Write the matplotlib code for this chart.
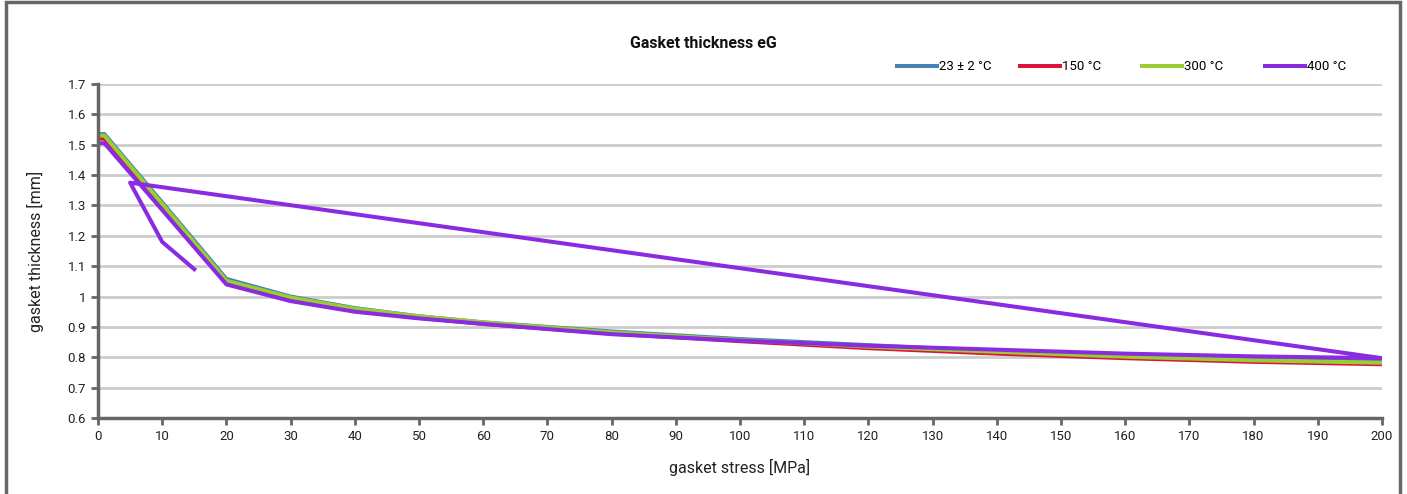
import matplotlib.pyplot as plt
import matplotlib.patches as patches
from matplotlib.ticker import FuncFormatter
from matplotlib.lines import Line2D

plt.rcParams['font.family'] = ['Roboto', 'DejaVu Sans']

# gasket stress [MPa] and thickness [mm] per temperature
stress = [0, 1, 10, 20, 30, 40, 50, 60, 80, 100, 120, 140, 160, 180, 200]
t23 = [1.535, 1.535, 1.31, 1.058, 1.0, 0.962, 0.935, 0.915, 0.885, 0.86, 0.84, 0.82, 0.805, 0.795, 0.785]
t150 = [1.52, 1.52, 1.295, 1.05, 0.995, 0.958, 0.93, 0.91, 0.878, 0.853, 0.83, 0.812, 0.797, 0.785, 0.777]
t300 = [1.53, 1.53, 1.305, 1.052, 0.997, 0.96, 0.935, 0.915, 0.882, 0.857, 0.835, 0.818, 0.802, 0.79, 0.782]
# 400 °C includes the unloading branch back to low stress
stress400 = stress + [5, 10, 15]
t400 = [1.505, 1.505, 1.285, 1.04, 0.985, 0.95, 0.928, 0.91, 0.876, 0.855, 0.838, 0.825, 0.812, 0.803, 0.797,
        1.375, 1.18, 1.09]

labels = ['23 ± 2 °C', '150 °C', '300 °C', '400 °C']
colors = ['#4682B4', '#DC143C', '#9ACD32', '#8A2BE2']

fig = plt.figure(figsize=(14.07, 4.94), dpi=100)
ax = fig.add_axes([98 / 1407, 1 - 418 / 494, (1382 - 98) / 1407, (418 - 84) / 494])

lw = 2.9
ax.plot(stress, t23, color=colors[0], lw=lw)
ax.plot(stress, t150, color=colors[1], lw=lw)
ax.plot(stress, t300, color=colors[2], lw=lw)
ax.plot(stress400, t400, color=colors[3], lw=lw)

ax.set_xlim(0, 200)
ax.set_ylim(0.6, 1.7)
ax.set_xticks(range(0, 201, 10))
ax.set_yticks([round(0.6 + 0.1 * i, 1) for i in range(12)])
ax.yaxis.set_major_formatter(FuncFormatter(lambda v, p: ('%.1f' % v).rstrip('0').rstrip('.')))

ax.grid(axis='y', color='#cccccc', lw=2)
ax.set_axisbelow(True)
for s in ['top', 'right']:
    ax.spines[s].set_visible(False)
for s in ['left', 'bottom']:
    ax.spines[s].set_color('#666666')
    ax.spines[s].set_linewidth(2.5)
ax.tick_params(colors='#666666', width=2, length=5, labelsize=9.5, labelcolor='#222222')

ax.set_xlabel('gasket stress [MPa]', fontsize=11.5, color='#222222', labelpad=12)
ax.set_ylabel('gasket thickness [mm]', fontsize=11.5, color='#222222', labelpad=17)
fig.text(0.5, 1 - 43 / 494, 'Gasket thickness eG', ha='center', va='center',
         fontsize=11.5, fontweight='bold', color='#111111')

# legend entries spaced evenly like the original
leg_x = [897, 1020, 1142, 1265]
for lx, lab, c in zip(leg_x, labels, colors):
    h = Line2D([], [], color=c, lw=lw)
    leg = fig.legend([h], [lab], loc='center left', bbox_to_anchor=(lx / 1407, 1 - 67 / 494),
                     frameon=False, fontsize=9.5, handlelength=3.0, handletextpad=0.15,
                     borderpad=0, borderaxespad=0)

# outer frame
fig.patches.append(patches.Rectangle((6 / 1407, -0.1), 1394 / 1407, 1.1 - 2 / 494,
                                     transform=fig.transFigure, fill=False,
                                     edgecolor='#666666', lw=2.5, clip_on=False))

fig.savefig('out.png', dpi=100)
